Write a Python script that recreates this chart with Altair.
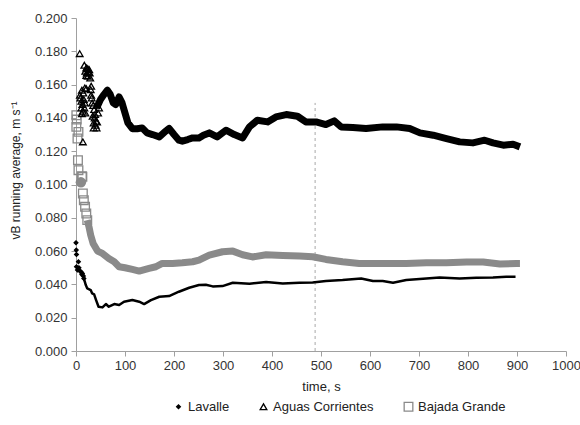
import altair as alt
import pandas as pd

SERIES = ["Lavalle", "Aguas Corrientes", "Bajada Grande"]
GRAY = "#8a8a8a"

# ---- Aguas Corrientes (open triangles) ----
ac_scatter_t = [7.5, 17, 21, 24, 27, 19, 22, 25, 28, 21, 24, 29, 18, 21, 31, 30, 12, 8, 9, 11, 13, 11, 14,
                31, 32, 35, 37, 39, 38, 36, 40, 47, 45, 14, 33, 34, 41, 42, 36, 43, 15, 16, 18, 17, 19, 12]
ac_scatter_v = [0.1786, 0.1716, 0.170, 0.1695, 0.169, 0.168, 0.167, 0.1675, 0.167, 0.1655, 0.165, 0.164,
                0.158, 0.1575, 0.159, 0.157, 0.1566, 0.1536, 0.152, 0.150, 0.148, 0.146, 0.144,
                0.1536, 0.152, 0.1475, 0.145, 0.142, 0.140, 0.137, 0.1356, 0.146, 0.143, 0.1256,
                0.149, 0.141, 0.138, 0.134, 0.134, 0.1375, 0.155, 0.151, 0.149, 0.146, 0.143, 0.1425]
ac_band_t = [42, 50, 57, 64, 70, 76, 81, 88, 94, 100, 106, 115, 125, 135, 145, 156, 170, 183, 190, 200,
             210, 217, 228, 238, 251, 260, 272, 288, 306, 323, 340, 354, 370, 391, 408, 429, 452, 469,
             490, 510, 527, 541, 565, 592, 626, 654, 681, 702, 729, 756, 783, 810, 834, 851, 872, 892, 906]
ac_band_v = [0.146, 0.151, 0.154, 0.1566, 0.154, 0.149, 0.148, 0.1526, 0.149, 0.143, 0.137, 0.1335,
             0.1335, 0.134, 0.131, 0.130, 0.1286, 0.132, 0.1337, 0.130, 0.1266, 0.126, 0.127, 0.128,
             0.128, 0.1296, 0.131, 0.1286, 0.1326, 0.130, 0.128, 0.1346, 0.1386, 0.1376, 0.1406,
             0.142, 0.141, 0.1376, 0.1376, 0.136, 0.1382, 0.1346, 0.1342, 0.1336, 0.1346, 0.1346,
             0.1336, 0.131, 0.1296, 0.1276, 0.1256, 0.125, 0.1266, 0.125, 0.1236, 0.1242, 0.1226]

# ---- Bajada Grande (open grey squares) ----
bg_scatter_t = [0.7, 1.5, 0.7, 5, 3, 4, 5, 12, 13, 14, 16, 18.5, 21, 23]
bg_scatter_v = [0.1416, 0.139, 0.1346, 0.1316, 0.1276, 0.1146, 0.1086, 0.105, 0.1046,
                0.0946, 0.0906, 0.0866, 0.0826, 0.0786]
bg_blob_t = [10]
bg_blob_v = [0.1013]
bg_band_t = [23, 26.5, 30, 35, 44, 54, 67, 78, 88, 100, 115, 129, 149, 163, 176, 197, 217, 238, 251,
             272, 299, 320, 340, 360, 388, 422, 456, 483, 510, 544, 578, 626, 674, 715, 756, 797, 831,
             865, 899, 906]
bg_band_v = [0.0786, 0.0746, 0.0696, 0.0646, 0.060, 0.0586, 0.0556, 0.0536, 0.0506, 0.050, 0.049,
             0.048, 0.0496, 0.0506, 0.0526, 0.0526, 0.053, 0.0536, 0.0546, 0.0576, 0.0596, 0.060,
             0.0578, 0.0565, 0.0578, 0.0574, 0.057, 0.0566, 0.055, 0.0536, 0.0526, 0.0526, 0.0526,
             0.053, 0.053, 0.0534, 0.0534, 0.0522, 0.0526, 0.0526]

# ---- Lavalle (small black diamonds) ----
la_scatter_t = [0, 0.5, 1, 5, 1, 3, 6, 8, 10, 13, 12, 15, 16]
la_scatter_v = [0.065, 0.0606, 0.058, 0.0536, 0.0506, 0.0486, 0.050, 0.048, 0.0476, 0.0466, 0.046,
                0.045, 0.0436]
la_line_t = [16, 20, 23, 30, 33, 37, 41, 46, 54, 61, 67, 78, 88, 98, 115, 129, 139, 153, 170, 190, 210,
             231, 251, 265, 279, 299, 320, 354, 388, 422, 456, 483, 510, 544, 582, 606, 626, 647, 674,
             715, 742, 783, 817, 851, 878, 897]
la_line_v = [0.0436, 0.0396, 0.0376, 0.0366, 0.0346, 0.034, 0.0306, 0.0266, 0.0262, 0.0282, 0.0266,
             0.0282, 0.0276, 0.0296, 0.0306, 0.0296, 0.0282, 0.0306, 0.0326, 0.033, 0.0356, 0.038,
             0.0396, 0.0398, 0.0388, 0.039, 0.041, 0.0404, 0.0414, 0.0406, 0.041, 0.0412, 0.042,
             0.0426, 0.0436, 0.042, 0.042, 0.041, 0.0426, 0.0436, 0.0442, 0.0436, 0.044, 0.0442,
             0.0446, 0.0446]

# dashed marker line
marker_t = [488]
marker_v = [0.0, 0.149]

x_ticks = list(range(0, 1001, 100))
y_ticks = [round(i * 0.02, 3) for i in range(11)]

scatter_df = pd.concat([
    pd.DataFrame({"t": la_scatter_t, "v": la_scatter_v, "series": "Lavalle"}),
    pd.DataFrame({"t": bg_scatter_t, "v": bg_scatter_v, "series": "Bajada Grande"}),
    pd.DataFrame({"t": ac_scatter_t, "v": ac_scatter_v, "series": "Aguas Corrientes"}),
])
ac_df = pd.DataFrame({"t": ac_band_t, "v": ac_band_v})
bg_df = pd.DataFrame({"t": bg_band_t, "v": bg_band_v})
la_df = pd.DataFrame({"t": la_line_t, "v": la_line_v})
blob_df = pd.DataFrame({"t": bg_blob_t, "v": bg_blob_v})
marker_df = pd.DataFrame({"t": marker_t, "v": [marker_v[0]], "v1": [marker_v[1]]})

AXIS_GRAY = "#a0a0a0"
xscale = alt.Scale(domain=[0, 1000], nice=False)
yscale = alt.Scale(domain=[0, 0.2], nice=False)

x_axis = alt.Axis(
    values=x_ticks, format="d", title="time, s", grid=False, labelFontSize=13, titleFontSize=13,
    titleFontWeight="normal", labelColor="#333", titleColor="#222", domainColor=AXIS_GRAY,
    tickColor=AXIS_GRAY, tickSize=5, labelPadding=3, titlePadding=8, labelFlush=False,
    labelOverlap=False)
y_axis = alt.Axis(
    values=y_ticks, format=".3f", title="vB running average, m s⁻¹", grid=False,
    labelFontSize=13, titleFontSize=12, titleFontWeight="normal", labelColor="#333",
    titleColor="#222", domainColor=AXIS_GRAY, tickColor=AXIS_GRAY, tickSize=5, labelPadding=4,
    labelOverlap=False, titleAngle=-90, titleX=-61, titleY=152, titleAlign="center",
    titleBaseline="middle")
x_enc = alt.X("t:Q", scale=xscale, axis=x_axis)
y_enc = alt.Y("v:Q", scale=yscale, axis=y_axis)

rule = alt.Chart(marker_df).mark_rule(color="#a8a8a8", strokeDash=[3, 3], strokeWidth=1).encode(
    x=x_enc, y=y_enc, y2="v1:Q")

bg_line = alt.Chart(bg_df).mark_line(color=GRAY, strokeWidth=7, strokeJoin="round").encode(
    x=x_enc, y=y_enc)
ac_line = alt.Chart(ac_df).mark_line(color="black", strokeWidth=7, strokeJoin="round").encode(
    x=x_enc, y=y_enc)
la_line = alt.Chart(la_df).mark_line(color="black", strokeWidth=2.5, strokeJoin="round").encode(
    x=x_enc, y=y_enc)
blob = alt.Chart(blob_df).mark_circle(color=GRAY, size=110, opacity=1).encode(x=x_enc, y=y_enc)

leg = alt.Legend(title=None, orient="none", legendX=96, legendY=382, direction="horizontal",
                 labelFontSize=13, labelColor="#222", columnPadding=27, symbolStrokeWidth=1.3,
                 labelOffset=3)
points = alt.Chart(scatter_df).mark_point(strokeWidth=1.3, opacity=1).encode(
    x=x_enc, y=y_enc,
    shape=alt.Shape("series:N", scale=alt.Scale(domain=SERIES, range=["diamond", "triangle-up", "square"]), legend=leg),
    stroke=alt.Stroke("series:N", scale=alt.Scale(domain=SERIES, range=["black", "black", GRAY]), legend=leg),
    fill=alt.Fill("series:N", scale=alt.Scale(domain=SERIES, range=["black", "transparent", "transparent"]), legend=leg),
    size=alt.Size("series:N", scale=alt.Scale(domain=SERIES, range=[14, 75, 50]), legend=leg),
)

chart = alt.layer(rule, bg_line, ac_line, la_line, blob, points).properties(
    width=490, height=333,
    autosize=alt.AutoSizeParams(type="none"),
    padding={"left": 76, "top": 18, "right": 14, "bottom": 74},
).configure(font="Liberation Sans").configure_view(stroke=None)

chart.save("out.html", embed_options={"renderer": "svg", "actions": False})
